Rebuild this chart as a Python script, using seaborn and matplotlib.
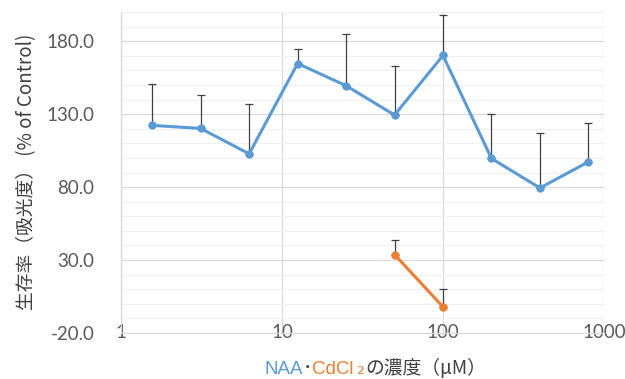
import matplotlib
matplotlib.use("Agg")
import matplotlib.pyplot as plt
import seaborn as sns
import numpy as np
import pandas as pd
from matplotlib.offsetbox import TextArea, HPacker, AnchoredOffsetbox
from matplotlib.ticker import FixedLocator, FixedFormatter, NullLocator

# ---- data ----
naa_conc = [1.5625, 3.125, 6.25, 12.5, 25, 50, 100, 200, 400, 800]
naa_vals = [122.3, 120.2, 102.8, 164.7, 149.5, 129.4, 170.2, 99.6, 79.4, 97.3]
naa_err = [28.6, 22.9, 34.1, 9.6, 35.5, 33.4, 27.7, 30.7, 37.4, 26.8]
cd_conc = [50, 100]
cd_vals = [33.8, -2.1]
cd_err = [10.1, 12.1]
x_ticks = [1, 10, 100, 1000]
x_ticklabels = ["1", "10", "100", "1000"]
y_ticks = [-20, 30, 80, 130, 180]

BLUE = "#5B9BD5"
ORANGE = "#ED7D31"
GREY = "#595959"

sns.set_theme(style="white")
plt.rcParams['font.family'] = ['Noto Sans CJK JP', 'DejaVu Sans']

fig = plt.figure(figsize=(6.25, 3.79), dpi=100)
ax = fig.add_axes([121/625, 1-333/379, (604-121)/625, (333-12)/379])

df = pd.concat([
    pd.DataFrame({"conc": naa_conc, "val": naa_vals, "series": "NAA"}),
    pd.DataFrame({"conc": cd_conc, "val": cd_vals, "series": "CdCl2"}),
])

ax.set_xscale("log")

# error bars (upper only)
ax.errorbar(naa_conc, naa_vals, yerr=[np.zeros(len(naa_err)), naa_err], fmt="none",
            ecolor="#404040", elinewidth=0.9, capsize=3, capthick=0.9, zorder=2)
ax.errorbar(cd_conc, cd_vals, yerr=[np.zeros(len(cd_err)), cd_err], fmt="none",
            ecolor="#404040", elinewidth=0.9, capsize=3, capthick=0.9, zorder=2)

sns.lineplot(data=df, x="conc", y="val", hue="series", palette={"NAA": BLUE, "CdCl2": ORANGE},
             marker="o", markersize=6, markeredgewidth=0, linewidth=2.2, legend=False,
             ax=ax, zorder=3, sort=False)

ax.set_xlim(1, 1000)
ax.set_ylim(-20, 200)
ax.xaxis.set_major_locator(FixedLocator(x_ticks))
ax.xaxis.set_major_formatter(FixedFormatter(x_ticklabels))
ax.xaxis.set_minor_locator(NullLocator())
ax.yaxis.set_major_locator(FixedLocator(y_ticks))
ax.yaxis.set_major_formatter(matplotlib.ticker.FuncFormatter(lambda v, p: f"{v:.1f}"))
ax.yaxis.set_minor_locator(FixedLocator(list(range(-20, 201, 10))))

ax.grid(which="major", axis="both", color="#D9D9D9", linewidth=0.9)
ax.grid(which="minor", axis="y", color="#F0F0F0", linewidth=0.9)
ax.set_axisbelow(True)

for s in ["top", "right"]:
    ax.spines[s].set_visible(False)
for s in ["left", "bottom"]:
    ax.spines[s].set_color("#D9D9D9")
    ax.spines[s].set_linewidth(0.9)

ax.tick_params(axis="x", which="both", length=0, pad=0, labelsize=13.5, labelcolor=GREY)
ax.tick_params(axis="y", which="both", length=0, pad=19, labelsize=13.5, labelcolor=GREY)
for lbl in ax.get_xticklabels():
    lbl.set_verticalalignment("center")
    lbl.set_family(["Lato", "DejaVu Sans"])
for lbl in ax.get_yticklabels():
    lbl.set_family(["Lato", "DejaVu Sans"])

ax.set_xlabel("")
ax.set_ylabel("")
fig.text(27/625, 1-172/379, "生存率（吸光度） (% of Control)", rotation=90, ha="center", va="center",
         fontsize=13.5, color="#404040")

fs = 13.5
parts = [
    TextArea("NAA", textprops=dict(color=BLUE, fontsize=fs, family=["Liberation Sans"])),
    TextArea("･", textprops=dict(color="#404040", fontsize=fs)),
    TextArea("CdCl", textprops=dict(color=ORANGE, fontsize=fs, family=["Liberation Sans"])),
    TextArea(" ₂", textprops=dict(color=ORANGE, fontsize=fs)),
    TextArea("の濃度（µM）", textprops=dict(color="#404040", fontsize=fs)),
]
box = HPacker(children=parts, align="baseline", pad=0, sep=0)
anch = AnchoredOffsetbox(loc="center", child=box, frameon=False, pad=0, borderpad=0,
                         bbox_to_anchor=(375/625, 1-368/379), bbox_transform=fig.transFigure)
fig.add_artist(anch)

fig.savefig("out.png", dpi=100)
